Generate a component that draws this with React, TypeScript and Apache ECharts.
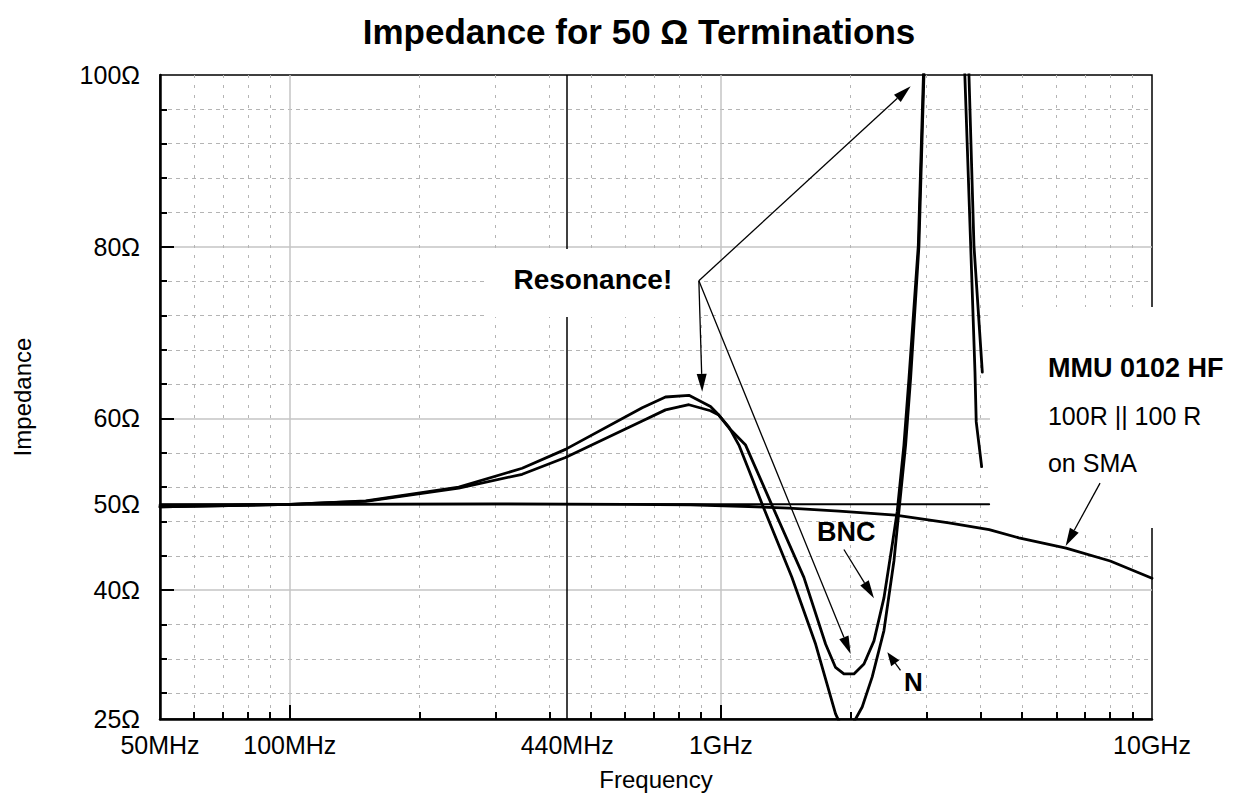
import React, { useEffect, useRef } from "react";
import * as echarts from "echarts";

// ---- data (frequency in GHz, impedance in ohms) ----
const nFreqGHz = [0.05, 0.1, 0.123, 0.15, 0.2466, 0.346, 0.436, 0.657, 0.744, 0.843, 0.946, 0.989, 1.044, 1.101, 1.161, 1.247, 1.461, 1.659, 1.845, 1.95, 2.053, 2.127, 2.244, 2.389, 2.52, 2.588, 2.682, 2.755, 2.88, 2.958, 3.3, 3.68, 3.797, 3.885, 3.911, 4.026];
const nOhm = [49.7, 50.0, 50.2, 50.4, 52.0, 54.2, 56.4, 61.25, 62.5, 62.7, 61.4, 60.4, 59.0, 56.9, 54.0, 50.0, 41.5, 33.7, 25.6, 23.0, 25.0, 26.4, 29.9, 35.3, 43.4, 49.2, 56.9, 64.7, 80.1, 100, 200, 100, 80.1, 65.4, 59.6, 54.4];

const bncFreqGHz = [0.05, 0.1, 0.123, 0.15, 0.2466, 0.346, 0.436, 0.657, 0.744, 0.843, 0.946, 0.989, 1.044, 1.141, 1.311, 1.558, 1.75, 1.845, 1.929, 2.035, 2.147, 2.265, 2.389, 2.497, 2.565, 2.658, 2.731, 2.87, 2.95, 3.3, 3.762, 3.864, 4.04];
const bncOhm = [49.7, 50.0, 50.2, 50.35, 51.9, 53.5, 55.45, 59.7, 61.0, 61.6, 60.9, 60.4, 58.9, 56.9, 50.0, 41.5, 33.7, 31.0, 30.25, 30.25, 31.4, 34.1, 39.1, 45.3, 49.2, 56.9, 64.7, 80.1, 100, 200, 100, 80.1, 65.4];

const smaFreqGHz = [0.05, 0.1, 0.3, 0.6, 0.85, 1.16, 1.44, 1.88, 2.54, 3.38, 4.19, 4.91, 6.32, 8.0, 10.0];
const smaOhm = [49.9, 50.0, 50.05, 50.0, 49.95, 49.75, 49.55, 49.2, 48.75, 47.85, 47.05, 46.1, 44.9, 43.4, 41.4];

const refFreqGHz = [0.05, 4.19];
const refOhm = [50, 50];

// ---- axis ticks ----
const xLabelGHz = [0.05, 0.1, 0.44, 1, 10];
const xMajorGHz = [0.1, 1];
const xMinorGHz = [0.06, 0.07, 0.08, 0.09, 0.2, 0.3, 0.4, 0.5, 0.6, 0.7, 0.8, 0.9, 2, 3, 4, 5, 6, 7, 8, 9];
const xMarkerGHz = [0.44];
const yLabelOhm = [25, 40, 50, 60, 80, 100];
const yMajorOhm = [40, 60, 80];
const yMinorOhm = [28, 32, 36, 44, 48, 52, 56, 64, 68, 72, 76, 84, 88, 92, 96];

// ---- annotations (data coordinates) ----
const noteText = ["Resonance!", "BNC", "N", "MMU 0102 HF", "100R || 100 R", "on SMA"];
const noteFreqGHz = [0.5047, 1.954, 2.796, 5.737, 5.737, 5.737];
const noteOhm = [76.24, 46.74, 29.29, 65.86, 60.3, 54.79];
const noteBold = [true, true, true, true, false, false];
const noteSize = [28, 27, 26, 27, 25, 25];
const noteAlign = ["center", "center", "center", "left", "left", "left"];

const arrowFrom = [[0.889, 76.04], [0.889, 76.04], [0.889, 76.04], [1.929, 44.74], [2.61, 30.65], [7.577, 52.47]];
const arrowTo = [[2.755, 98.7], [0.905, 63.1], [2.0, 32.57], [2.265, 39.06], [2.433, 32.77], [6.305, 45.14]];

const FONT = '"Liberation Sans", Arial, Helvetica, sans-serif';

const lg = (ghz: number) => Math.log10(ghz * 1e9);
const X_MIN = lg(0.05);
const X_MAX = lg(10);

const pairs = (fs: number[], zs: number[]) => fs.map((f, i) => [lg(f), zs[i]]);

const fmtFreq = (v: number) => {
  const f = Math.pow(10, v);
  return f >= 0.999e9 ? `${Math.round(f / 1e9)}GHz` : `${Math.round(f / 1e6)}MHz`;
};

function lineSeries(name: string, fs: number[], zs: number[], width: number) {
  return {
    type: "line",
    name,
    data: pairs(fs, zs),
    showSymbol: false,
    symbol: "none",
    clip: true,
    silent: true,
    z: 3,
    lineStyle: { color: "#000", width, cap: "round", join: "round" },
  };
}

function buildOption(): any {
  const baseX = { type: "value", min: X_MIN, max: X_MAX, position: "bottom" };
  const baseY = { type: "value", min: 25, max: 100, position: "left" };
  return {
    animation: false,
    backgroundColor: "#fff",
    grid: { left: 160, right: 101, top: 75, bottom: 74, show: true, borderColor: "#000", borderWidth: 1.5, backgroundColor: "transparent" },
    xAxis: [
      {
        ...baseX,
        name: "Frequency",
        nameLocation: "middle",
        nameGap: 48,
        nameTextStyle: { fontFamily: FONT, fontSize: 24, color: "#000" },
        axisLine: { show: true, onZero: false, lineStyle: { color: "#000", width: 2.5 } },
        axisTick: { show: true, inside: true, length: 7, lineStyle: { color: "#000", width: 2 }, customValues: xMinorGHz.map(lg) },
        splitLine: { show: true, lineStyle: { color: "#b4b4b4", width: 1, type: [3, 7] } },
        axisLabel: { show: true, margin: 13, showMinLabel: true, showMaxLabel: true, customValues: xLabelGHz.map(lg), formatter: fmtFreq, fontFamily: FONT, fontSize: 25, color: "#000" },
      },
      {
        ...baseX,
        axisLine: { show: false },
        axisTick: { show: true, inside: true, length: 14, lineStyle: { color: "#000", width: 2 }, customValues: xMajorGHz.map(lg) },
        splitLine: { show: true, lineStyle: { color: "#c4c4c4", width: 1.5, type: "solid" } },
        axisLabel: { show: false },
      },
      {
        ...baseX,
        axisLine: { show: false },
        axisTick: { show: false, customValues: xMarkerGHz.map(lg) },
        splitLine: { show: true, lineStyle: { color: "#000", width: 1.5, type: "solid" } },
        axisLabel: { show: false },
      },
    ],
    yAxis: [
      {
        ...baseY,
        name: "Impedance",
        nameLocation: "middle",
        nameGap: 126,
        nameTextStyle: { fontFamily: FONT, fontSize: 24, color: "#000" },
        axisLine: { show: true, onZero: false, lineStyle: { color: "#000", width: 2.5 } },
        axisTick: { show: true, inside: true, length: 7, lineStyle: { color: "#000", width: 2 }, customValues: yMinorOhm },
        splitLine: { show: true, lineStyle: { color: "#b4b4b4", width: 1, type: [4, 4] } },
        axisLabel: { show: true, margin: 20, padding: [0, 0, 10, 0], showMinLabel: true, showMaxLabel: true, customValues: yLabelOhm, formatter: (v: number) => `${Math.round(v)}Ω`, fontFamily: FONT, fontSize: 25, color: "#000" },
      },
      {
        ...baseY,
        axisLine: { show: false },
        axisTick: { show: true, inside: true, length: 14, lineStyle: { color: "#000", width: 2 }, customValues: yMajorOhm },
        splitLine: { show: true, lineStyle: { color: "#c4c4c4", width: 1.5, type: "solid" } },
        axisLabel: { show: false },
      },
    ],
    series: [
      lineSeries("50 Ω", refFreqGHz, refOhm, 2),
      lineSeries("MMU 0102 HF on SMA", smaFreqGHz, smaOhm, 2.8),
      lineSeries("BNC", bncFreqGHz, bncOhm, 2.8),
      lineSeries("N", nFreqGHz, nOhm, 2.8),
    ],
  };
}

function buildGraphic(chart: any): any[] {
  const toPx = (f: number, z: number) => chart.convertToPixel({ xAxisIndex: 0, yAxisIndex: 0 }, [lg(f), z]) as number[];
  const els: any[] = [];
  // title
  els.push({
    type: "text", x: 639, y: 31, z: 10, silent: true,
    style: { text: "Impedance for 50 Ω Terminations", font: `bold 35px ${FONT}`, fill: "#000", textAlign: "center", textVerticalAlign: "middle" },
  });
  // white label boxes
  els.push({ type: "rect", z: 1, silent: true, shape: { x: 487, y: 249, width: 217, height: 68 }, style: { fill: "#fff" } });
  els.push({ type: "rect", z: 1, silent: true, shape: { x: 990, y: 307, width: 263, height: 221 }, style: { fill: "#fff" } });
  // notes
  noteText.forEach((t, i) => {
    const p = toPx(noteFreqGHz[i], noteOhm[i]);
    els.push({
      type: "text", x: p[0], y: p[1], z: 10, silent: true,
      style: { text: t, font: `${noteBold[i] ? "bold " : ""}${noteSize[i]}px ${FONT}`, fill: "#000", textAlign: noteAlign[i], textVerticalAlign: "middle" },
    });
  });
  // arrows
  arrowFrom.forEach((a, i) => {
    const b = arrowTo[i];
    const p1 = toPx(a[0], a[1]);
    const p2 = toPx(b[0], b[1]);
    const dx = p2[0] - p1[0];
    const dy = p2[1] - p1[1];
    const L = Math.hypot(dx, dy);
    const ux = dx / L, uy = dy / L;
    const hl = Math.min(18, L * 0.6);
    const hw = 5;
    const bx = p2[0] - ux * hl, by = p2[1] - uy * hl;
    const nx = -uy, ny = ux;
    els.push({ type: "line", z: 10, silent: true, shape: { x1: p1[0], y1: p1[1], x2: bx, y2: by }, style: { stroke: "#000", lineWidth: 1.3 } });
    els.push({
      type: "polygon", z: 10, silent: true,
      shape: { points: [[p2[0], p2[1]], [bx + nx * hw, by + ny * hw], [bx - nx * hw, by - ny * hw]] },
      style: { fill: "#000" },
    });
  });
  return els;
}

export default function App() {
  const ref = useRef<HTMLDivElement>(null);
  useEffect(() => {
    document.body.style.margin = "0";
    const el = ref.current;
    if (!el) return;
    const chart = echarts.init(el, undefined, { renderer: "svg" });
    chart.setOption(buildOption());
    chart.setOption({ graphic: { elements: buildGraphic(chart) } });
    return () => chart.dispose();
  }, []);
  return <div ref={ref} style={{ width: 1253, height: 796 }} />;
}
